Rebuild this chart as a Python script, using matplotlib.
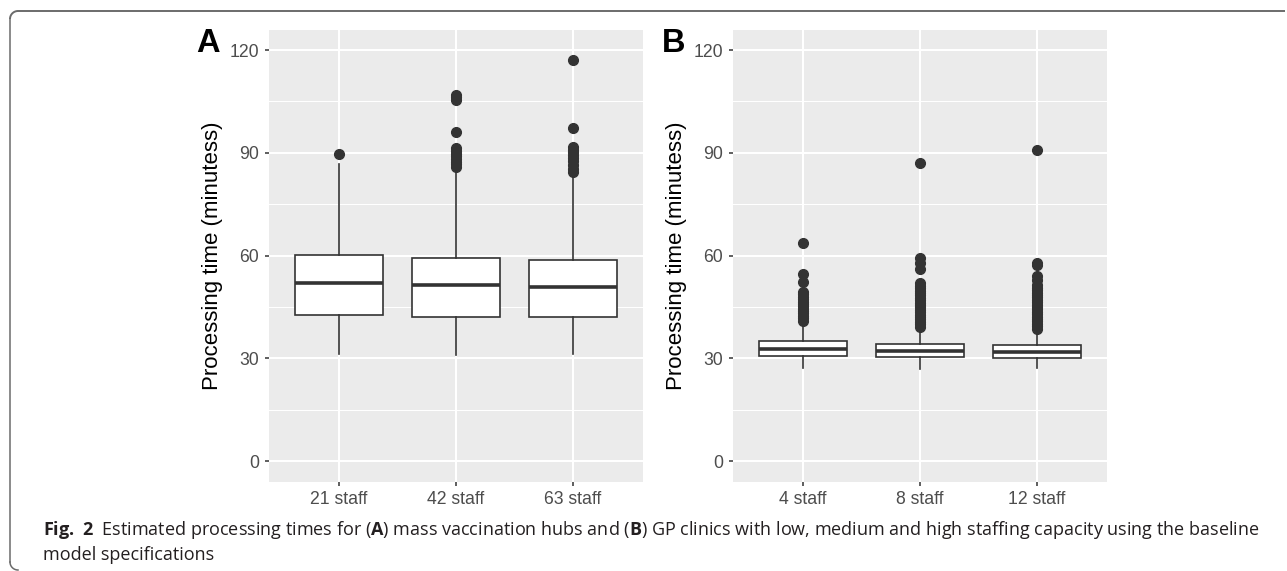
#!/usr/bin/env python3
# -*- coding: utf-8 -*-

import numpy as np
import matplotlib
matplotlib.use('Agg')
import matplotlib.pyplot as plt

plt.rcParams['font.family'] = ['Liberation Sans', 'DejaVu Sans']
plt.rcParams['mathtext.fontset'] = 'custom'
plt.rcParams['mathtext.rm'] = 'Open Sans'
plt.rcParams['mathtext.bf'] = 'Open Sans:bold'

#--------------------------------------------------------------------
#                               data
#--------------------------------------------------------------------
y_ticks = [0, 30, 60, 90, 120]
y_minor = [15, 45, 75, 105]

# (A) mass vaccination hubs
hub_labels = ['21 staff', '42 staff', '63 staff']
hub_q1 = [42.7, 42.2, 42.1]
hub_med = [52.0, 51.3, 50.9]
hub_q3 = [60.2, 59.3, 58.8]
hub_lo = [31.4, 31.1, 31.2]
hub_hi = [86.6, 85.2, 84.0]
hub_out = [
    [89.8],
    [106.9, 106.2, 105.4, 96.1, 91.4, 90.6, 89.8, 89.0, 88.2, 87.4,
     86.6, 85.9],
    [117.1, 97.3, 91.6, 90.9, 90.2, 89.4, 88.6, 87.6, 86.4, 85.3, 84.5],
]

# (B) GP clinics
gp_labels = ['4 staff', '8 staff', '12 staff']
gp_q1 = [30.7, 30.4, 30.1]
gp_med = [32.7, 32.2, 31.9]
gp_q3 = [35.0, 34.1, 33.8]
gp_lo = [27.3, 27.0, 27.3]
gp_hi = [40.2, 38.6, 37.8]
gp_out = [
    [63.8, 54.7, 52.3, 49.4, 48.7, 48.0, 47.3, 46.6, 45.9, 45.2, 44.5,
     43.8, 43.1, 42.4, 41.7, 41.0],
    [86.9, 59.2, 57.8, 56.0, 51.9, 51.2, 50.5, 49.8, 49.1, 48.4, 47.7,
     47.0, 46.3, 45.6, 44.9, 44.2, 43.5, 42.8, 42.1, 41.4, 40.7, 40.0,
     39.3],
    [90.8, 57.8, 57.2, 54.0, 52.8, 51.3, 50.6, 49.9, 49.2, 48.5, 47.8,
     47.1, 46.4, 45.7, 45.0, 44.3, 43.6, 42.9, 42.2, 41.5, 40.8, 40.1,
     39.4, 38.7],
]

caption_1 = (r'$\mathbf{Fig.\;2}$  Estimated processing times for ($\mathbf{A}$) '
             r'mass vaccination hubs and ($\mathbf{B}$) GP clinics with low, '
             r'medium and high staffing capacity using the baseline')
caption_2 = 'model specifications'

#--------------------------------------------------------------------
#                             helpers
#--------------------------------------------------------------------
W, H = 1287, 571
DARK = '#333333'


def px_box(left, top, right, bottom):
    return [left / W, 1 - bottom / H, (right - left) / W, (bottom - top) / H]


def draw_panel(ax, labels, q1, med, q3, lo, hi, out):
    stats = []
    for i in range(len(labels)):
        stats.append(dict(med=med[i], q1=q1[i], q3=q3[i], whislo=lo[i],
                          whishi=hi[i], fliers=out[i], label=labels[i]))
    pos = np.arange(1, len(labels) + 1)
    ax.bxp(stats, positions=pos, widths=0.75, patch_artist=True,
           showcaps=False,
           boxprops=dict(facecolor='white', edgecolor=DARK, linewidth=1.2),
           medianprops=dict(color=DARK, linewidth=2.6,
                            solid_capstyle='butt'),
           whiskerprops=dict(color=DARK, linewidth=1.2),
           flierprops=dict(marker='o', markerfacecolor=DARK,
                           markeredgecolor=DARK, markersize=7,
                           linestyle='none'))

    ax.set_facecolor('#EBEBEB')
    for s in ax.spines.values():
        s.set_visible(False)
    ax.set_axisbelow(True)
    ax.set_xlim(0.4, len(labels) + 0.6)
    ax.set_ylim(-6, 126)
    ax.set_yticks(y_ticks)
    ax.set_yticks(y_minor, minor=True)
    ax.set_xticks(pos)
    ax.set_xticklabels(labels)
    ax.grid(which='major', color='white', linewidth=1.5)
    ax.grid(which='minor', axis='y', color='white', linewidth=0.75)
    ax.tick_params(which='major', length=3, width=1.1, color=DARK,
                   labelsize=12.7, labelcolor='#4D4D4D', pad=4)
    ax.tick_params(which='minor', length=0)
    ax.set_ylabel('Processing time (minutess)', fontsize=16, labelpad=5)


#--------------------------------------------------------------------
#                              figure
#--------------------------------------------------------------------
fig = plt.figure(figsize=(W / 100, H / 100), dpi=100)

# outer frame (top rule + rounded left edge)
frame = fig.add_axes([0, 0, 1, 1], zorder=-5)
frame.set_xlim(0, W)
frame.set_ylim(H, 0)
frame.axis('off')
r = 8
t = np.linspace(0, np.pi / 2, 20)
top_x = np.concatenate([[W - 2], 10 + r - r * np.sin(t)])
top_y = np.concatenate([[11], 11 + r - r * np.cos(t)])
frame.plot(top_x, top_y, color='#6B6B6B', lw=1.4, solid_capstyle='butt')
frame.plot([10, 10], [11 + r, H - 1 - r], color='#6B6B6B', lw=1.1)
frame.plot(10 + r - r * np.cos(t), H - 1 - r + r * np.sin(t),
           color='#6B6B6B', lw=1.1)

ax_a = fig.add_axes(px_box(269, 29.5, 643, 481.7))
draw_panel(ax_a, hub_labels, hub_q1, hub_med, hub_q3, hub_lo, hub_hi,
           hub_out)
ax_b = fig.add_axes(px_box(733, 29.5, 1107, 481.7))
draw_panel(ax_b, gp_labels, gp_q1, gp_med, gp_q3, gp_lo, gp_hi, gp_out)

fig.text(196 / W, 1 - 28 / H, 'A', fontsize=23.5, fontweight='bold',
         va='top', ha='left')
fig.text(662 / W, 1 - 28 / H, 'B', fontsize=23.5, fontweight='bold',
         va='top', ha='left')

fig.text(43 / W, 1 - 535 / H, caption_1, fontsize=13, family='Open Sans',
         va='baseline', ha='left', color='#231F20')
fig.text(43 / W, 1 - 560 / H, caption_2, fontsize=13, family='Open Sans',
         va='baseline', ha='left', color='#231F20')

fig.savefig('out.png', dpi=100)
